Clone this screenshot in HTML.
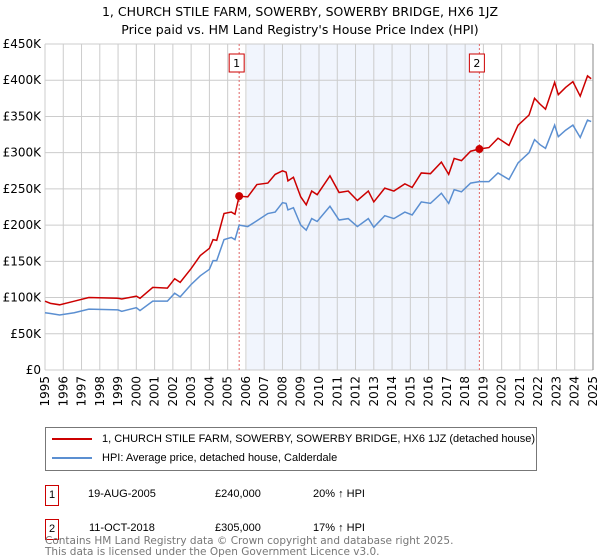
<!DOCTYPE html>
<html><head><meta charset="utf-8"><style>
body{margin:0;background:#fff;font-family:"Liberation Sans","DejaVu Sans",sans-serif;}
#wrap{position:relative;width:600px;height:560px;overflow:hidden}
</style></head><body><div id="wrap">
<svg id="chart" width="600" height="560" style="position:absolute;left:0;top:0" font-family="DejaVu Sans, Liberation Sans, sans-serif">
<text x="300" y="16" text-anchor="middle" font-size="12.5">1, CHURCH STILE FARM, SOWERBY, SOWERBY BRIDGE, HX6 1JZ</text>
<text x="300" y="34" text-anchor="middle" font-size="12.5">Price paid vs. HM Land Registry's House Price Index (HPI)</text>
<g id="grid"></g><g id="series"></g><g id="axes"></g>
</svg>
<div style="position:absolute;left:45px;top:427px;width:490px;height:42px;border:1px solid #777;font-size:11px;">
 <div style="position:absolute;left:6px;top:5px;white-space:nowrap"><span style="display:inline-block;width:40px;height:2px;background:#cc0000;vertical-align:middle;margin-right:10px"></span>1, CHURCH STILE FARM, SOWERBY, SOWERBY BRIDGE, HX6 1JZ (detached house)</div>
 <div style="position:absolute;left:6px;top:24px;white-space:nowrap"><span style="display:inline-block;width:40px;height:2px;background:#5b8fd1;vertical-align:middle;margin-right:10px"></span>HPI: Average price, detached house, Calderdale</div>
</div>
<div style="position:absolute;left:45px;top:485px;font-size:11px;width:400px;height:20px">
 <span style="position:absolute;left:0;top:0;border:1px solid #cc0000;width:12px;height:19px;text-align:center;line-height:19px">1</span>
 <span style="position:absolute;left:43px;top:3px">19-AUG-2005</span><span style="position:absolute;left:170px;top:3px">£240,000</span><span style="position:absolute;left:268px;top:3px">20% ↑ HPI</span></div>
<div style="position:absolute;left:45px;top:519px;font-size:11px;width:400px;height:20px">
 <span style="position:absolute;left:0;top:0;border:1px solid #cc0000;width:12px;height:19px;text-align:center;line-height:19px">2</span>
 <span style="position:absolute;left:44px;top:3px">11-OCT-2018</span><span style="position:absolute;left:170px;top:3px">£305,000</span><span style="position:absolute;left:268px;top:3px">17% ↑ HPI</span></div>
<div style="position:absolute;left:45px;top:536px;font-size:10.5px;color:#777;line-height:11px;font-family:'DejaVu Sans',sans-serif">Contains HM Land Registry data © Crown copyright and database right 2025.<br>This data is licensed under the Open Government Licence v3.0.</div>
</div>
<script>
const years=[1995,1995.3,1995.8,1996.6,1997.4,1999.0,1999.2,2000.0,2000.2,2000.9,2001.7,2002.1,2002.4,2003.0,2003.5,2004.0,2004.2,2004.4,2004.8,2005.2,2005.4,2005.63,2006.1,2006.6,2007.2,2007.6,2008.0,2008.2,2008.3,2008.6,2009.0,2009.3,2009.6,2009.9,2010.6,2011.1,2011.6,2012.1,2012.7,2013.0,2013.6,2014.1,2014.7,2015.1,2015.6,2016.1,2016.7,2017.1,2017.4,2017.8,2018.3,2018.78,2019.3,2019.8,2020.4,2020.9,2021.5,2021.8,2022.1,2022.4,2022.9,2023.1,2023.5,2023.9,2024.3,2024.7,2024.9];
const hpi=[79,78,76,79,84,83,81,86,82,95,95,106,101,118,130,139,151,151,180,183,180,200,198,206,216,218,231,230,221,224,200,193,209,205,226,207,209,198,209,197,213,209,218,214,232,230,244,230,249,246,258,260,260,272,263,286,300,318,311,306,338,322,331,338,321,345,343];
const price=[95,92,90,95,100,99,98,102,99,114,113,126,121,140,158,168,180,179,216,218,215,240,239,256,258,270,275,273,261,266,239,228,247,242,268,245,247,234,247,232,251,247,257,252,272,271,287,270,292,289,302,305,307,320,310,338,352,375,367,360,397,380,390,398,378,406,402];
const yTicks=[0,50,100,150,200,250,300,350,400,450];
const yLabels=["£0","£50K","£100K","£150K","£200K","£250K","£300K","£350K","£400K","£450K"];
const xTicks=[1995,1996,1997,1998,1999,2000,2001,2002,2003,2004,2005,2006,2007,2008,2009,2010,2011,2012,2013,2014,2015,2016,2017,2018,2019,2020,2021,2022,2023,2024,2025];
const sales=[{n:"1",year:2005.63,value:240},{n:"2",year:2018.78,value:305}];
const X0=45,X1=593,Y0=370,Y1=44;
const xs=y=>X0+(y-1995)/30*(X1-X0), ys=v=>Y0-v/450*(Y0-Y1);
const NS="http://www.w3.org/2000/svg";
function mk(tag,attrs,parent){const e=document.createElementNS(NS,tag);for(const k in attrs)e.setAttribute(k,attrs[k]);parent.appendChild(e);return e;}
const grid=document.getElementById('grid'),ser=document.getElementById('series'),ax=document.getElementById('axes');
const shade=mk('rect',{x:xs(2006.05),y:Y1,width:xs(sales[1].year)-xs(2006.05),height:Y0-Y1,fill:'#eef3fd',opacity:0.8},grid);


yTicks.forEach((t,i)=>{
 const l=mk('line',{x1:X0,x2:X1,y1:ys(t),y2:ys(t),stroke:'#ccc','stroke-width':1},grid);
 
 
 const tx=mk('text',{x:X0-4,y:ys(t)+4,'text-anchor':'end','font-size':12},ax);tx.textContent=yLabels[i];
 
 
});
xTicks.forEach(t=>{
 const l=mk('line',{x1:xs(t),x2:xs(t),y1:Y1,y2:Y0,stroke:'#ccc','stroke-width':1},grid);
 
 
 const tx=mk('text',{x:0,y:0,'text-anchor':'end','font-size':12,transform:`translate(${xs(t)+4},${Y0+6}) rotate(-90)`},ax);tx.textContent=t;
 
 
});
const rightAxis=mk('line',{x1:X1,x2:X1,y1:Y1,y2:Y0,stroke:'#888','stroke-width':1},ax);


sales.forEach(s=>{
 const l=mk('line',{x1:xs(s.year),x2:xs(s.year),y1:Y1,y2:Y0,stroke:'#e06666','stroke-width':1,'stroke-dasharray':'2,2'},ser);
 
 
 const r=mk('rect',{x:xs(s.year)-10,y:54,width:15,height:18,fill:'#fff',stroke:'#cc0000'},ser);
 
 
 const t=mk('text',{x:xs(s.year)-2.5,y:67,'text-anchor':'middle','font-size':11},ser);t.textContent=s.n;
 
 
});
const pl=(arr,color,name)=>{const p=mk('polyline',{points:years.map((y,i)=>xs(y)+','+ys(arr[i])).join(' '),fill:'none',stroke:color,'stroke-width':1.5},ser);
 
 };
pl(hpi,'#5b8fd1','hpi-line');
pl(price,'#cc0000','property-price-line');
sales.forEach(s=>{const c=mk('circle',{cx:xs(s.year),cy:ys(s.value),r:4,fill:'#cc0000'},ser);
 
 });
</script>
</body></html>
